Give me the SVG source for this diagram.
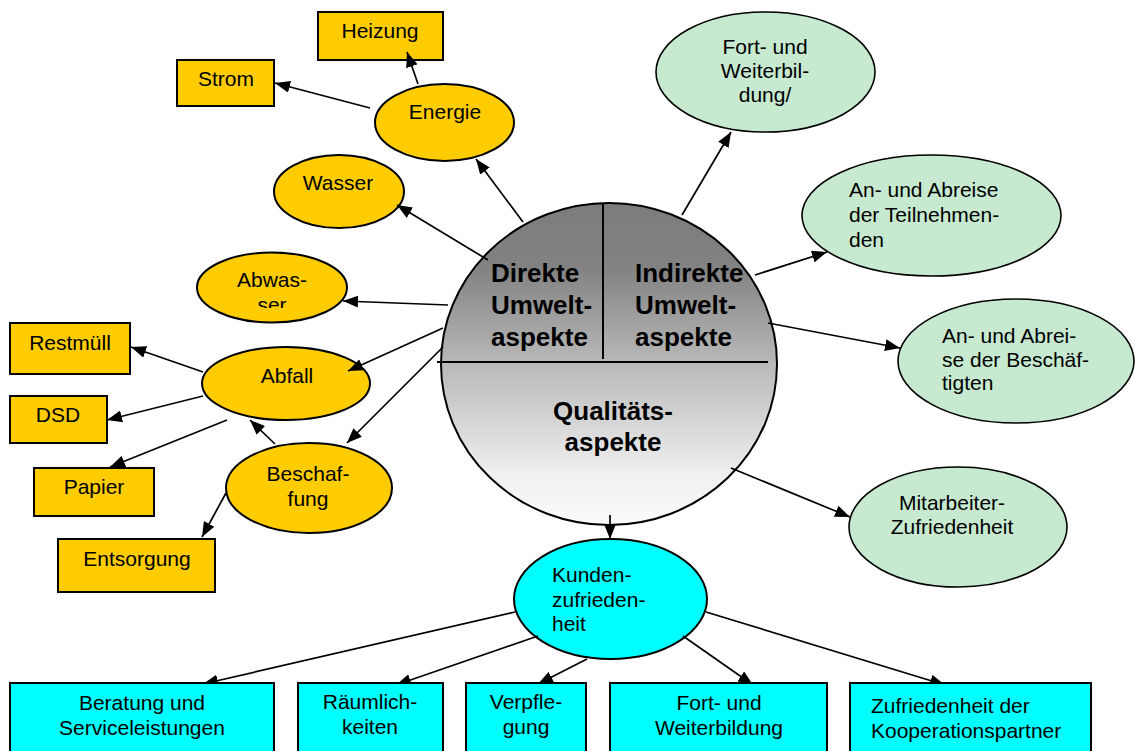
<svg xmlns="http://www.w3.org/2000/svg" width="1135" height="751" viewBox="0 0 1135 751">
<style>
text{font-family:"Liberation Sans",Arial,sans-serif;font-size:21px;fill:#000}
.c{text-anchor:middle}
.b{font-weight:bold;font-size:26px}
.y{fill:#ffcc00;stroke:#000;stroke-width:2}
.g{fill:#c6e9d0;stroke:#000;stroke-width:1.6}
.k{fill:#00ffff;stroke:#000;stroke-width:2}
.ln{stroke:#000;stroke-width:1.7;fill:none;marker-end:url(#arr)}
</style>
<defs>
<marker id="arr" markerWidth="15" markerHeight="12" refX="15" refY="6" orient="auto" markerUnits="userSpaceOnUse"><path d="M0,0 L15,6 L0,12 z" fill="#000"/></marker>
<linearGradient id="gr" x1="0" y1="0" x2="0" y2="1">
<stop offset="0" stop-color="#7c7c7c"/>
<stop offset="0.2" stop-color="#828282"/>
<stop offset="0.5" stop-color="#b9b9b9"/>
<stop offset="0.85" stop-color="#f0f0f0"/>
<stop offset="1" stop-color="#fbfbfb"/>
</linearGradient>
<clipPath id="cw"><rect x="190" y="250" width="170" height="58"/></clipPath>
</defs>
<rect width="1135" height="751" fill="#fff"/>

<g id="center">
<ellipse cx="609" cy="364" rx="168" ry="161" fill="url(#gr)" stroke="#000" stroke-width="2"/>
<line x1="603" y1="204" x2="603" y2="359" stroke="#000" stroke-width="2"/>
<line x1="437" y1="362" x2="768" y2="362" stroke="#000" stroke-width="2"/>
<text class="b" x="491" y="282">Direkte</text>
<text class="b" x="491" y="314">Umwelt-</text>
<text class="b" x="491" y="346">aspekte</text>
<text class="b" x="635" y="282">Indirekte</text>
<text class="b" x="635" y="314">Umwelt-</text>
<text class="b" x="635" y="346">aspekte</text>
<text class="b c" x="613" y="420">Qualitäts-</text>
<text class="b c" x="613" y="451">aspekte</text>
</g>

<g id="heizung"><rect class="y" x="318" y="12" width="125" height="48"/><text class="c" x="380" y="38">Heizung</text></g>
<g id="strom"><rect class="y" x="177" y="60" width="97" height="46"/><text class="c" x="226" y="86">Strom</text></g>
<g id="energie"><ellipse class="y" cx="444.5" cy="122.5" rx="69.5" ry="38.5"/><text class="c" x="445" y="119">Energie</text></g>
<g id="wasser"><ellipse class="y" cx="339" cy="191.5" rx="65" ry="36.5"/><text class="c" x="338" y="190">Wasser</text></g>
<g id="abwasser"><ellipse class="y" cx="272" cy="287.5" rx="75" ry="35"/><g clip-path="url(#cw)"><text class="c" x="272" y="287">Abwas-</text><text class="c" x="272" y="312">ser</text></g></g>
<g id="abfall"><ellipse class="y" cx="286" cy="383.5" rx="84" ry="36.5"/><text class="c" x="287" y="383">Abfall</text></g>
<g id="restmuell"><rect class="y" x="10" y="323" width="120" height="51"/><text class="c" x="70" y="350">Restmüll</text></g>
<g id="dsd"><rect class="y" x="10" y="396" width="97" height="47"/><text class="c" x="58" y="422">DSD</text></g>
<g id="papier"><rect class="y" x="34" y="468" width="120" height="48"/><text class="c" x="94" y="494">Papier</text></g>
<g id="entsorgung"><rect class="y" x="58" y="539" width="157" height="53"/><text class="c" x="137" y="566">Entsorgung</text></g>
<g id="beschaffung"><ellipse class="y" cx="309" cy="488" rx="83" ry="45"/><text class="c" x="308" y="481">Beschaf-</text><text class="c" x="308" y="506">fung</text></g>

<g id="fortbildung"><ellipse class="g" cx="765.5" cy="72" rx="109.5" ry="60"/><text class="c" x="765" y="54">Fort- und</text><text class="c" x="765" y="78">Weiterbil-</text><text class="c" x="765" y="102">dung/</text></g>
<g id="teilnehmende"><ellipse class="g" cx="931.5" cy="215.5" rx="129.5" ry="60.5"/><text x="849" y="197">An- und Abreise</text><text x="849" y="222">der Teilnehmen-</text><text x="849" y="247">den</text></g>
<g id="beschaeftigte"><ellipse class="g" cx="1016" cy="361" rx="118" ry="62"/><text x="942" y="343">An- und Abrei-</text><text x="942" y="367">se der Beschäf-</text><text x="942" y="390">tigten</text></g>
<g id="mitarbeiter"><ellipse class="g" cx="958" cy="527" rx="109" ry="60"/><text class="c" x="952" y="510">Mitarbeiter-</text><text class="c" x="952" y="534">Zufriedenheit</text></g>

<g id="kunden"><ellipse class="k" cx="610.5" cy="599" rx="96.5" ry="60"/><text x="552" y="582">Kunden-</text><text x="552" y="607">zufrieden-</text><text x="552" y="631">heit</text></g>

<g id="connectors">
<line class="ln" x1="523" y1="222" x2="476" y2="159"/>
<line class="ln" x1="418" y1="84" x2="407" y2="52"/>
<line class="ln" x1="370" y1="108" x2="275" y2="83"/>
<line class="ln" x1="488" y1="260" x2="397" y2="205"/>
<line class="ln" x1="448" y1="305" x2="343" y2="301"/>
<line class="ln" x1="443" y1="328" x2="348" y2="371"/>
<line class="ln" x1="443" y1="347" x2="347" y2="443"/>
<line class="ln" x1="203" y1="372" x2="131" y2="347"/>
<line class="ln" x1="203" y1="396" x2="107" y2="420"/>
<line class="ln" x1="227" y1="420" x2="110" y2="467"/>
<line class="ln" x1="275" y1="444" x2="250" y2="420"/>
<line class="ln" x1="226" y1="493" x2="202" y2="537"/>
<line class="ln" x1="682" y1="215" x2="731" y2="132"/>
<line class="ln" x1="755" y1="275" x2="827" y2="252"/>
<line class="ln" x1="768" y1="323" x2="900" y2="348"/>
<line class="ln" x1="731" y1="468" x2="850" y2="517"/>
<line class="ln" x1="610" y1="515" x2="610" y2="539"/>
<line class="ln" x1="515" y1="612" x2="203" y2="684"/>
<line class="ln" x1="538" y1="636" x2="396" y2="685"/>
<line class="ln" x1="587" y1="659" x2="538" y2="684"/>
<line class="ln" x1="683" y1="636" x2="753" y2="685"/>
<line class="ln" x1="706" y1="612" x2="945" y2="685"/>
</g>

<g id="beratung"><rect class="k" x="10" y="683" width="264" height="80"/><text class="c" x="142" y="710">Beratung und</text><text class="c" x="142" y="735">Serviceleistungen</text></g>
<g id="raeumlichkeiten"><rect class="k" x="298" y="683" width="145" height="80"/><text class="c" x="370" y="709">Räumlich-</text><text class="c" x="370" y="734">keiten</text></g>
<g id="verpflegung"><rect class="k" x="466" y="683" width="120" height="80"/><text class="c" x="526" y="709">Verpfle-</text><text class="c" x="526" y="734">gung</text></g>
<g id="fortweiter"><rect class="k" x="610" y="683" width="217" height="80"/><text class="c" x="719" y="710">Fort- und</text><text class="c" x="719" y="735">Weiterbildung</text></g>
<g id="kooperation"><rect class="k" x="850" y="683" width="241" height="80"/><text x="871" y="713">Zufriedenheit der</text><text x="871" y="738">Kooperationspartner</text></g>
</svg>
